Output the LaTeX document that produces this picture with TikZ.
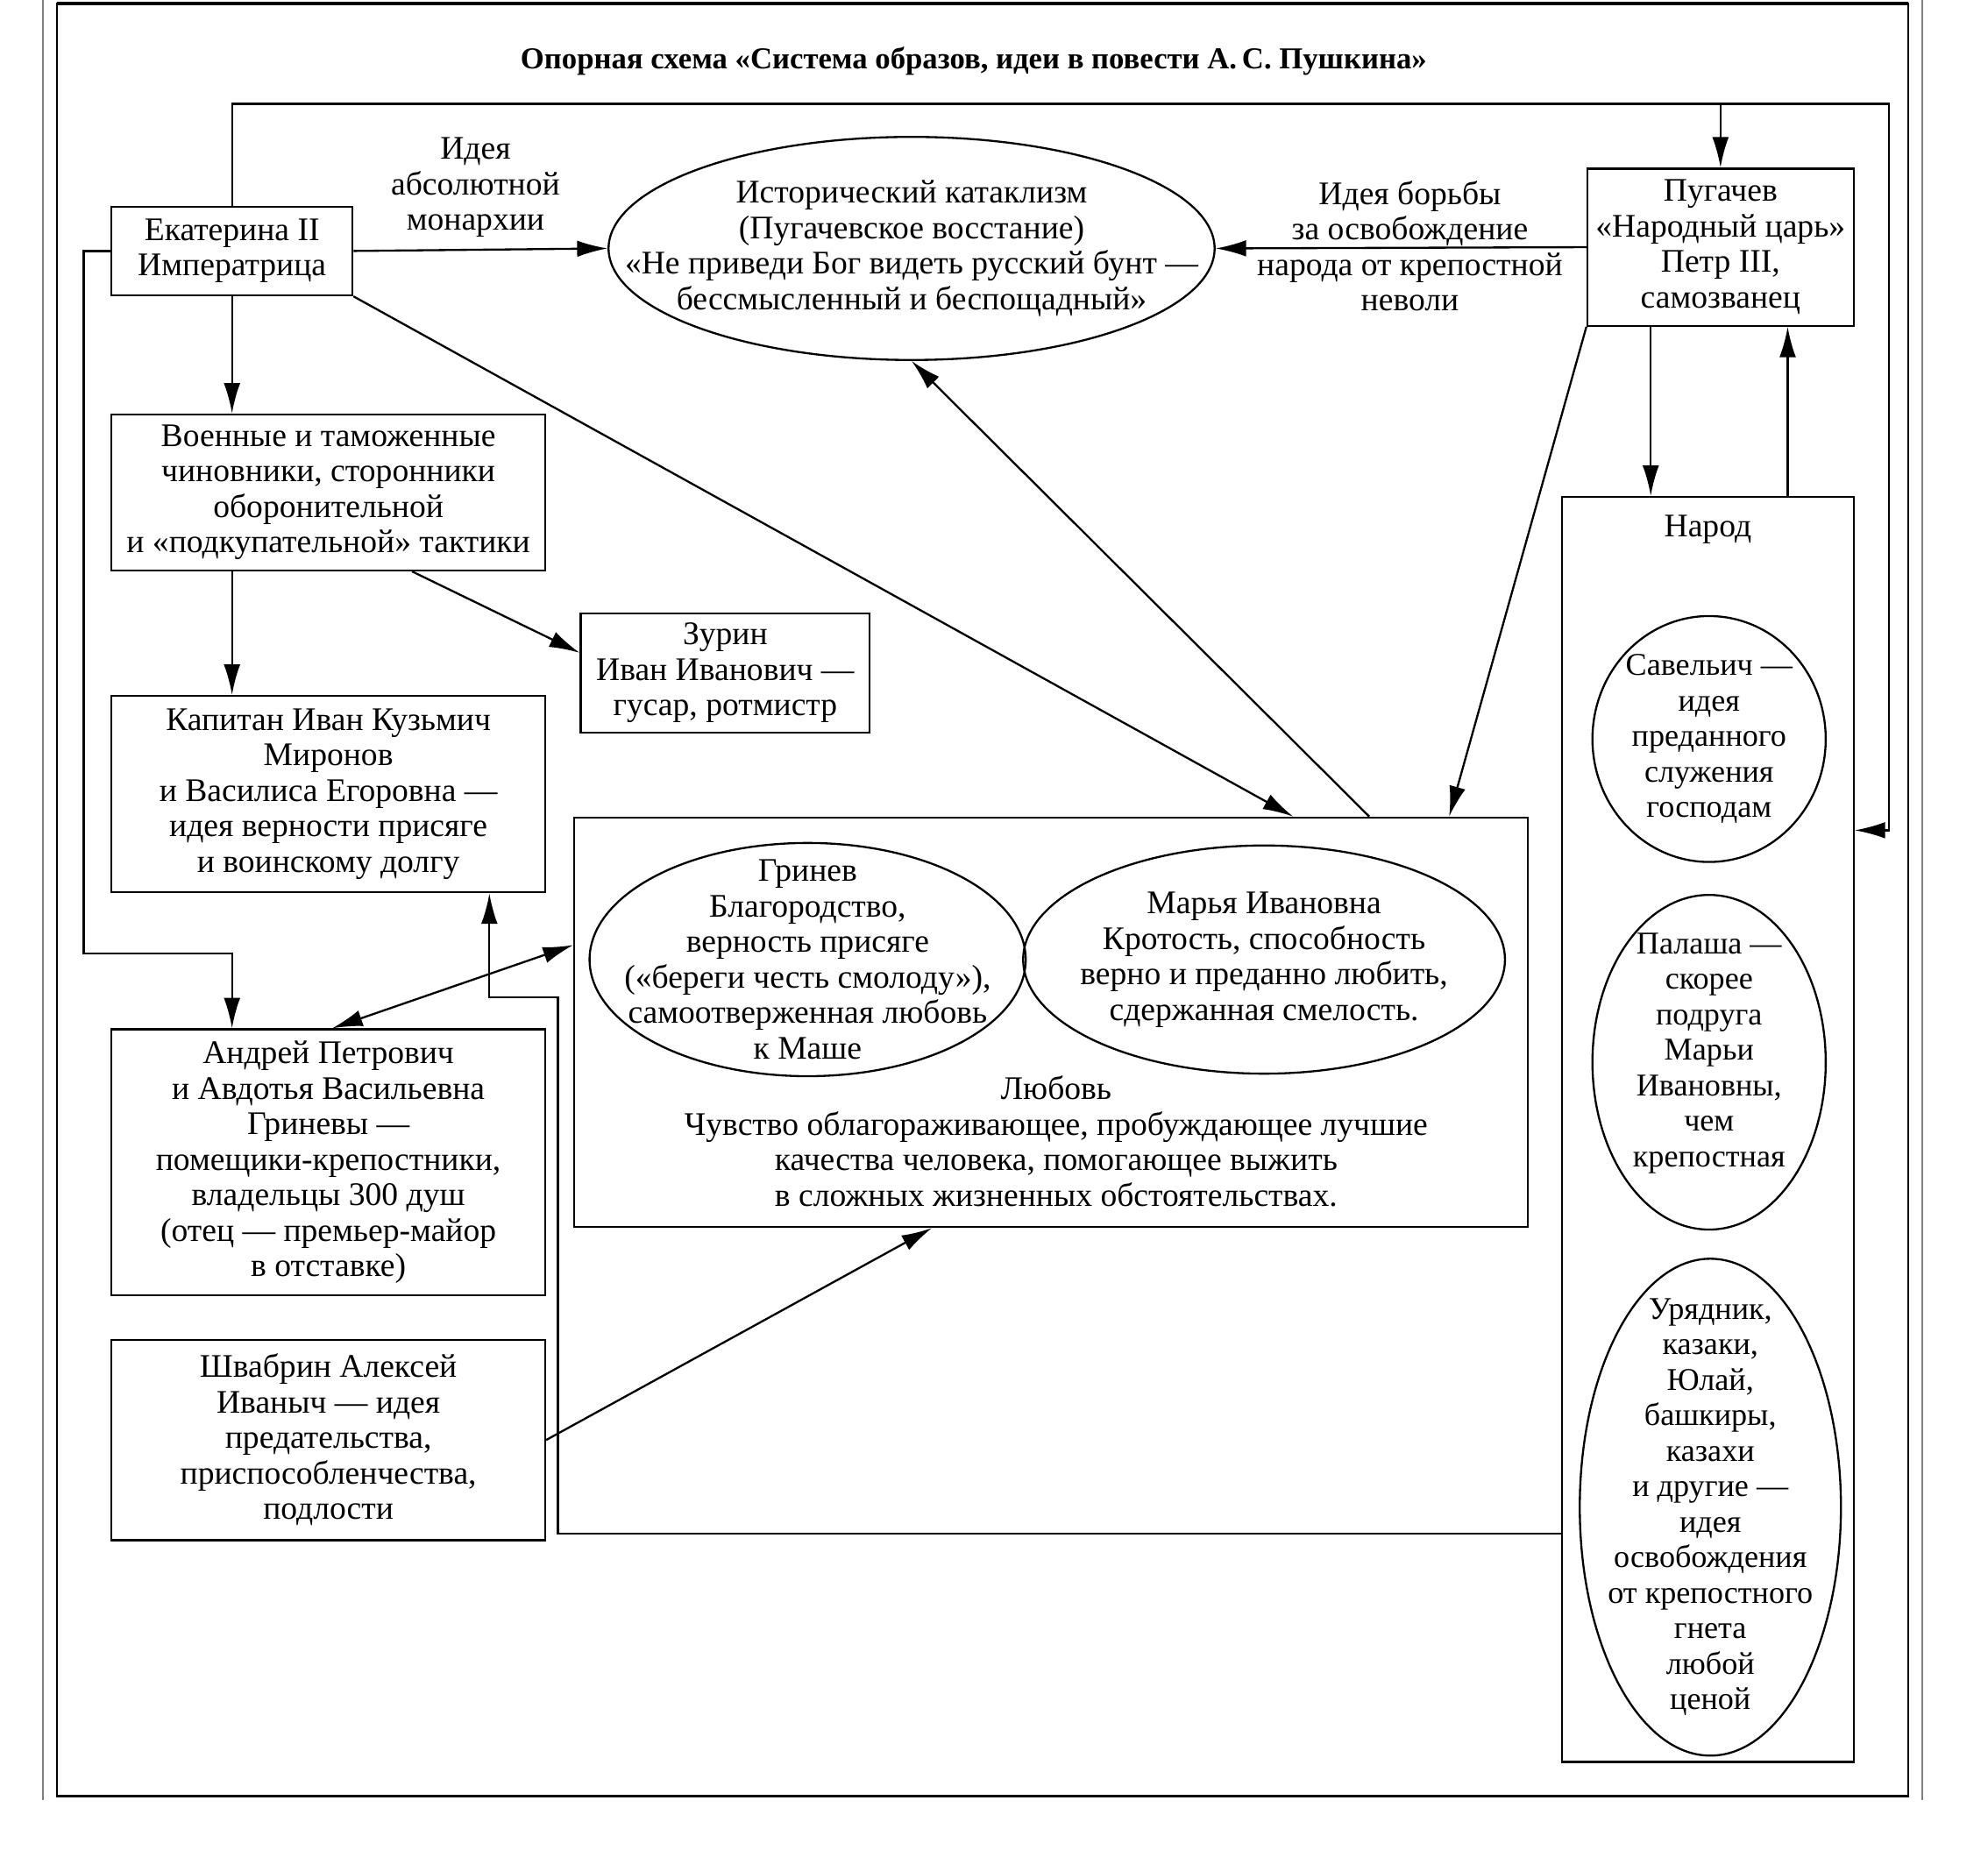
\documentclass[tikz,border=0pt]{standalone}
\usepackage{fontspec}
\setmainfont{Liberation Serif}
\usetikzlibrary{shapes.geometric,calc,arrows.meta}

\begin{document}
\begin{tikzpicture}[x=0.5pt, y=-0.5pt, >={Latex[length=12pt,width=6.5pt]}, line width=0.8pt, every node/.style={font=\fontsize{13}{14}\selectfont}]
\tikzstyle{box}=[rectangle, draw, align=center, inner sep=0pt]
\tikzstyle{oval}=[ellipse, draw, inner sep=0pt]
\tikzstyle{note}=[align=center, inner sep=0pt]
\tikzstyle{narrow}=[note, font=\fontsize{12.5}{14}\selectfont]
\useasboundingbox (0,0) rectangle (1568,1459);
% frame
\draw (45,3) rectangle (1505,1417);
\draw[line width=1.4pt] (45,3) -- (1505,3);
\draw[gray, line width=0.5pt] (34,0) -- (34,1420);
\draw[gray, line width=0.5pt] (1516,0) -- (1516,1420);
\node[note, font=\bfseries\fontsize{12}{13}\selectfont] (title) at (768,48) {Опорная схема «Система образов, идеи в повести А.\,С. Пушкина»};

% top row
\node[box, minimum width=95pt, minimum height=35pt] (ekat) at (183,198) {Екатерина II\\Императрица};
\node[oval, minimum width=239pt, minimum height=88pt] (hist) at (719,196) {};
\node[note] (histt) at (hist) {Исторический катаклизм\\(Пугачевское восстание)\\«Не приведи Бог видеть русский бунт —\\бессмысленный и беспощадный»};
\node[box, minimum width=105pt, minimum height=62pt] (pug) at (1357,195) {Пугачев\\«Народный царь»\\Петр III,\\самозванец};
\node[note] (idea1) at (375,148) {Идея\\абсолютной\\монархии};
\node[note] (idea2) at (1112,194) {Идея борьбы\\за освобождение\\народа от крепостной\\неволи};

% left column
\node[box, minimum width=171pt, minimum height=61.5pt] (voen) at (259,388.5) {Военные и таможенные\\чиновники, сторонники\\оборонительной\\и «подкупательной» тактики};
\node[box, minimum width=114pt, minimum height=47pt] (zurin) at (572,531) {Зурин\\Иван Иванович —\\гусар, ротмистр};
\node[box, minimum width=171pt, minimum height=77.5pt] (kap) at (259,626.5) {Капитан Иван Кузьмич\\Миронов\\и Василиса Егоровна —\\идея верности присяге\\и воинскому долгу};
\node[box, minimum width=171pt, minimum height=105pt] (andr) at (259,917) {Андрей Петрович\\и Авдотья Васильевна\\Гриневы —\\помещики-крепостники,\\владельцы 300 душ\\(отец — премьер-майор\\в отставке)};
\node[box, minimum width=171pt, minimum height=79pt] (shvab) at (259,1136) {Швабрин Алексей\\Иваныч — идея\\предательства,\\приспособленчества,\\подлости};

% love block
\node[box, minimum width=376pt, minimum height=161.5pt] (lyub) at (829,806.5) {};
\node[oval, minimum width=172pt, minimum height=92pt] (grin) at (637,757) {};
\node[note] (grint) at (grin) {Гринев\\Благородство,\\верность присяге\\(«береги честь смолоду»),\\самоотверженная любовь\\к Маше};
\node[oval, minimum width=190pt, minimum height=90pt] (marya) at (997,757) {};
\node[note] (maryat) at (marya) {Марья Ивановна\\Кротость, способность\\верно и преданно любить,\\сдержанная смелость.};
\node[note] (lyubt) at (833,900.5) {Любовь\\Чувство облагораживающее, пробуждающее лучшие\\качества человека, помогающее выжить\\в сложных жизненных обстоятельствах.};

% people
\node[box, minimum width=115pt, minimum height=499pt] (narod) at (1347,891) {};
\node[note] (narodt) at (1347,418) {Народ};
\node[oval, minimum width=92pt, minimum height=97pt] (sav) at (1348,583) {};
\node[narrow] (savt) at (sav) {Савельич —\\идея\\преданного\\служения\\господам};
\node[oval, minimum width=92pt, minimum height=132pt] (pal) at (1348,838) {};
\node[narrow] (palt) at (1348,831) {Палаша —\\скорее\\подруга\\Марьи\\Ивановны,\\чем\\крепостная};
\node[oval, minimum width=103pt, minimum height=196pt] (ury) at (1349,1189) {};
\node[narrow] (uryt) at (ury) {Урядник,\\казаки,\\Юлай,\\башкиры,\\казахи\\и другие —\\идея\\освобождения\\от крепостного\\гнета\\любой\\ценой};

% connectors
\coordinate (tr) at (1490,82);
\coordinate (lc) at (66,752);
\coordinate (bend) at (440,1210);
\coordinate (kink) at (440,787);
\coordinate (pd) at ($(pug.south)+(-55,0)$);
\coordinate (nu) at ($(narod.north)+(63,0)$);
\draw[->] (ekat.east) -- (hist.west);
\draw[->] (pug.west) -- (hist.east);
\draw[->] (ekat.north) |- (tr) |- ($(narod.east)+(0,-236)$);
\draw[->] (pug.north |- tr) -- (pug.north);
\draw[->] (ekat.west) -| (lc) -| (ekat.south |- andr.north);
\draw[->] (ekat.south) -- (ekat.south |- voen.north);
\draw[->] (ekat.south |- voen.south) -- (ekat.south |- kap.north);
\draw[->] ($(voen.south)+(66,0)$) -- ($(zurin.west)+(0,-16)$);
\draw[->] (ekat.south east) -- ($(lyub.north)+(191,0)$);
\draw[->] ($(lyub.north)+(251,0)$) -- (hist.south);
\draw[->] (pug.south west) -- ($(lyub.north)+(314,0)$);
\draw[->] (pd) -- (pd |- narod.north);
\draw[->] (nu) -- (nu |- pug.south);
\draw[<->] ($(andr.north)+(3,0)$) -- ($(lyub.west)+(0,-61)$);
\draw[->] (narod.west |- bend) -- (bend) -- (kink) -| ($(kap.south)+(127,0)$);
\draw[->] (shvab.east) -- ($(lyub.south)+(-94,0)$);
\end{tikzpicture}
\end{document}
